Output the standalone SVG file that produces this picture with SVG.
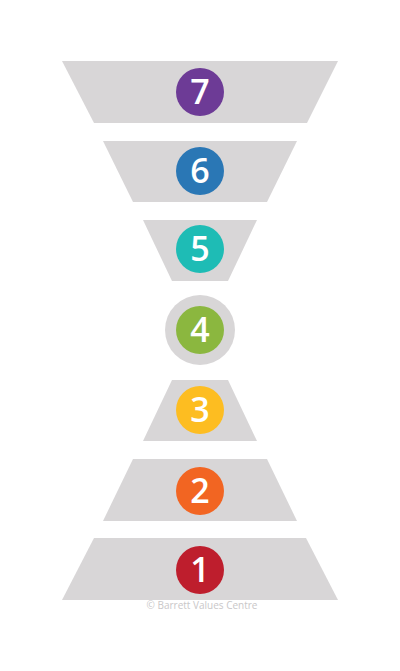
<svg xmlns="http://www.w3.org/2000/svg" width="400" height="671" viewBox="0 0 400 671">
<style>
.sh{fill:#d8d6d7}
.num{fill:#ffffff;font-family:"Open Sans","Liberation Sans",sans-serif;font-weight:600;font-size:34px;text-anchor:middle}
.copy{fill:#c9c7c8;font-family:"Open Sans","Liberation Sans",sans-serif;font-size:10px;text-anchor:middle}
</style>
<rect width="400" height="671" fill="#ffffff"/>
<g id="level7">
<polygon class="sh" points="62,61 338,61 307,123 94,123"/>
<circle cx="200" cy="92" r="24" fill="#6d3b96"/>
<text class="num" x="200" y="104">7</text>
</g>
<g id="level6">
<polygon class="sh" points="103,141 297,141 267,202 133,202"/>
<circle cx="200" cy="171" r="24" fill="#2a77b5"/>
<text class="num" x="200" y="183">6</text>
</g>
<g id="level5">
<polygon class="sh" points="143,220 257,220 228,281 172,281"/>
<circle cx="200" cy="249" r="24" fill="#1ebcb5"/>
<text class="num" x="200" y="261">5</text>
</g>
<g id="level4">
<circle cx="200" cy="330" r="35" class="sh"/>
<circle cx="200" cy="330" r="24" fill="#8bb73f"/>
<text class="num" x="200" y="342">4</text>
</g>
<g id="level3">
<polygon class="sh" points="172,380 228,380 257,441 143,441"/>
<circle cx="200" cy="410" r="24" fill="#fdbd21"/>
<text class="num" x="200" y="422">3</text>
</g>
<g id="level2">
<polygon class="sh" points="133,459 267,459 297,521 103,521"/>
<circle cx="200" cy="491" r="24" fill="#f26522"/>
<text class="num" x="200" y="503">2</text>
</g>
<g id="level1">
<polygon class="sh" points="94,538 306,538 338,600 62,600"/>
<circle cx="200" cy="570" r="24" fill="#be1e2d"/>
<text class="num" x="200" y="582">1</text>
</g>
<text class="copy" x="202" y="609">© Barrett Values Centre</text>
</svg>
